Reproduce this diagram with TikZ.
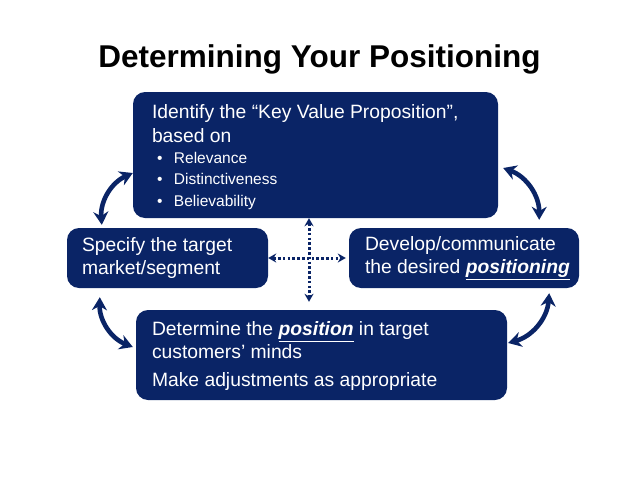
\documentclass[tikz,border=0pt]{standalone}
\usepackage{fontspec}
\setmainfont{Liberation Sans}
\usepackage{tikz}
\usetikzlibrary{arrows.meta,positioning}
\definecolor{navy}{RGB}{10,36,102}

\begin{document}
\begin{tikzpicture}[x=1pt, y=-1pt,
  panel/.style={fill=navy, rounded corners=12pt, inner sep=0pt},
  paneltext/.style={text=white, align=left, inner sep=0pt,
    font=\fontsize{19.3}{23}\selectfont},
  cyclearr/.style={{Stealth[length=13pt,width=15pt]}-{Stealth[length=13pt,width=15pt]},
    line width=4.6pt, draw=navy},
  dotarr/.style={{Stealth[length=8pt,width=9pt]}-{Stealth[length=8pt,width=9pt]},
    line width=3pt, draw=navy, dash pattern=on 2.6pt off 2.2pt}
]
\useasboundingbox (0,0) rectangle (638,493);

\node[anchor=base, font=\fontsize{31.5}{36}\selectfont\bfseries] (title) at (319.5,67)
  {Determining Your Positioning};

\node[panel, minimum width=365pt, minimum height=126pt] (kvp) at (315.5,155) {};
\node[panel, minimum width=201pt, minimum height=60pt] (spec) at (167.5,258) {};
\node[panel, minimum width=230pt, minimum height=60pt] (dev) at (464,258) {};
\node[panel, minimum width=371pt, minimum height=90pt] (det) at (321.5,355) {};

\node[paneltext, right=19pt of kvp.west, yshift=-2pt] (kvptext)
  {Identify the “Key Value Proposition”,\\[1pt]
   based on\\[-2pt]
   {\fontsize{15.5}{22}\selectfont\makebox[22pt][l]{\hspace{5pt}\textbullet}Relevance}\\[-1.5pt]
   {\fontsize{15.5}{22}\selectfont\makebox[22pt][l]{\hspace{5pt}\textbullet}Distinctiveness}\\[-1.5pt]
   {\fontsize{15.5}{22}\selectfont\makebox[22pt][l]{\hspace{5pt}\textbullet}Believability}};
\node[paneltext, right=15pt of spec.west] (spectext)
  {Specify the target\\ market/segment};
\node[paneltext, right=16pt of dev.west] (devtext)
  {Develop/communicate\\ the desired \underline{\textbf{\textit{positioning}}}};
\node[paneltext, right=16pt of det.west, yshift=-1pt] (dettext)
  {Determine the \underline{\textbf{\textit{position}}} in target\\
   customers’ minds\\[5pt]
   Make adjustments as appropriate};

\draw[cyclearr] ([xshift=35pt,yshift=3pt]spec.north west) to[bend left=35] ([yshift=-18pt]kvp.west);
\draw[cyclearr] ([xshift=5pt,yshift=-13pt]kvp.east) to[bend left=35] ([xshift=-40pt,yshift=8pt]dev.north east);
\draw[cyclearr] ([xshift=33pt,yshift=-9pt]spec.south west) to[bend right=35] ([xshift=-3pt,yshift=8pt]det.west);
\draw[cyclearr] ([xshift=-30pt,yshift=-5pt]dev.south east) to[bend left=35] ([xshift=1pt,yshift=12pt]det.east);

\draw[dotarr] (spec.east) -- ([xshift=-3pt]dev.west);
\draw[dotarr] ([xshift=-6.5pt]kvp.south) -- ([xshift=-12.5pt,yshift=8pt]det.north);
\end{tikzpicture}
\end{document}
